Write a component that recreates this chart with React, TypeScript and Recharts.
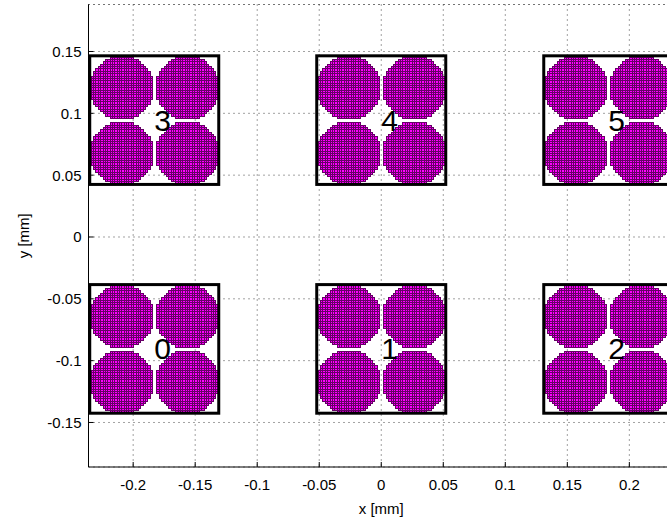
import React from "react";
import { CartesianGrid, Label, ReferenceLine, Scatter, ScatterChart, XAxis, YAxis } from "recharts";

// group boxes (centres in mm) and their numbers
const groupLabels = ["0", "1", "2", "3", "4", "5"];
const groupX = [-0.183, 0, 0.183, -0.183, 0, 0.183];
const groupY = [-0.0905, -0.0905, -0.0905, 0.0945, 0.0945, 0.0945];
const boxHalf = 0.052;

// meshed circles: column and row centres, radius (mm)
const circleX = [-0.2095, -0.1565, -0.0265, 0.0265, 0.1565, 0.2095];
const circleY = [0.121, 0.068, -0.064, -0.117];
const circleR = 0.0255;
const meshStep = 0.0019;

const xTicks = [-0.2, -0.15, -0.1, -0.05, 0, 0.05, 0.1, 0.15, 0.2];
const yTicks = [-0.15, -0.1, -0.05, 0, 0.05, 0.1, 0.15];
const xDomain: [number, number] = [-0.236, 0.236];
const yDomain: [number, number] = [-0.186, 0.188];

const W = 680;
const H = 519;
const margin = { top: 4.5, right: 6, bottom: 0, left: 0.5 };
const Y_AXIS_W = 88;
const X_AXIS_H = 52;
const plotW = W - margin.left - margin.right - Y_AXIS_W;
const plotH = H - margin.top - margin.bottom - X_AXIS_H;
const kx = plotW / (xDomain[1] - xDomain[0]);
const ky = plotH / (yDomain[1] - yDomain[0]);

const FONT = "'Liberation Sans', Arial, sans-serif";

const groups = groupLabels.map((label, i) => ({ x: groupX[i], y: groupY[i], label }));
const circles = circleY.flatMap((y) => circleX.map((x) => ({ x, y })));

function MeshCircle({ cx, cy }: any) {
  const r = circleR * kx;
  const p = meshStep * kx;
  const n = Math.ceil(r / p) + 1;
  const sx = (i: number) => Math.round(cx + i * p);
  const sy = (j: number) => Math.round(cy + j * p);
  let fill = "";
  let lines = "";
  for (let j = -n; j < n; j++) {
    const yc = (j + 0.5) * p;
    if (Math.abs(yc) >= r) continue;
    const k = Math.floor(Math.sqrt(r * r - yc * yc) / p + 0.5);
    if (k <= 0) continue;
    const x0 = sx(-k);
    const x1 = sx(k);
    const y0 = sy(j);
    const y1 = sy(j + 1);
    fill += `M${x0} ${y0}H${x1 + 1}V${y1 + 1}H${x0}Z`;
    lines += `M${x0} ${y0 + 0.5}H${x1 + 1}M${x0} ${y1 + 0.5}H${x1 + 1}`;
    for (let i = -k; i <= k; i++) {
      lines += `M${sx(i) + 0.5} ${y0}V${y1 + 1}`;
    }
  }
  return (
    <g shapeRendering="crispEdges">
      <path d={fill} fill="#ff00ff" />
      <path d={lines} fill="none" stroke="#000" strokeOpacity={0.6} strokeWidth={1} />
    </g>
  );
}

function GroupBox({ cx, cy, payload }: any) {
  const hw = boxHalf * kx;
  const hh = boxHalf * ky;
  return (
    <g>
      <rect x={cx - hw} y={cy - hh} width={hw * 2} height={hh * 2} fill="none" stroke="#000" strokeWidth={3} />
      <text x={cx} y={cy} fontSize={30} fontFamily={FONT} fill="#000" dominantBaseline="central">
        {payload.label}
      </text>
    </g>
  );
}

function XTick({ x, y, payload }: any) {
  return (
    <g>
      <line x1={x} y1={y} x2={x} y2={y - 5} stroke="#000" />
      <text x={x} y={y + 23} textAnchor="middle" fontSize={15} fontFamily={FONT} fill="#000">
        {String(payload.value)}
      </text>
    </g>
  );
}

function YTick({ x, y, payload }: any) {
  return (
    <g>
      <line x1={x} y1={y} x2={x + 5} y2={y} stroke="#000" />
      <text x={x - 7} y={y} textAnchor="end" dominantBaseline="central" fontSize={15} fontFamily={FONT} fill="#000">
        {String(payload.value)}
      </text>
    </g>
  );
}

export default function App() {
  return (
    <div style={{ position: "fixed", left: 0, top: 0, width: 667, height: 519, overflow: "hidden", background: "#fff" }}>
      <ScatterChart width={W} height={H} margin={margin}>
        <CartesianGrid stroke="#444" strokeDasharray="1 4" />
        <XAxis
          type="number"
          dataKey="x"
          domain={xDomain}
          ticks={xTicks}
          interval={0}
          allowDataOverflow
          height={X_AXIS_H}
          tickSize={0}
          tickMargin={0}
          tickLine={false}
          axisLine={{ stroke: "#000" }}
          tick={(p: any) => <XTick {...p} />}
        >
          <Label
            content={({ viewBox }: any) => (
              <text
                x={viewBox.x + viewBox.width / 2}
                y={508}
                textAnchor="middle"
                dominantBaseline="central"
                fontSize={15}
                fontFamily={FONT}
                fill="#000"
              >
                x [mm]
              </text>
            )}
          />
        </XAxis>
        <YAxis
          type="number"
          dataKey="y"
          domain={yDomain}
          ticks={yTicks}
          interval={0}
          allowDataOverflow
          width={Y_AXIS_W}
          tickSize={0}
          tickMargin={0}
          tickLine={false}
          axisLine={{ stroke: "#000" }}
          tick={(p: any) => <YTick {...p} />}
        >
          <Label
            content={({ viewBox }: any) => {
              const cy = viewBox.y + viewBox.height / 2;
              return (
                <text
                  x={23}
                  y={cy}
                  transform={`rotate(-90 23 ${cy})`}
                  textAnchor="middle"
                  dominantBaseline="central"
                  fontSize={15}
                  fontFamily={FONT}
                  fill="#000"
                >
                  y [mm]
                </text>
              );
            }}
          />
        </YAxis>
        <ReferenceLine y={yDomain[1]} stroke="#444" strokeDasharray="1 4" />
        <Scatter data={circles} isAnimationActive={false} shape={(p: any) => <MeshCircle {...p} />} />
        <Scatter data={groups} isAnimationActive={false} shape={(p: any) => <GroupBox {...p} />} />
      </ScatterChart>
    </div>
  );
}
